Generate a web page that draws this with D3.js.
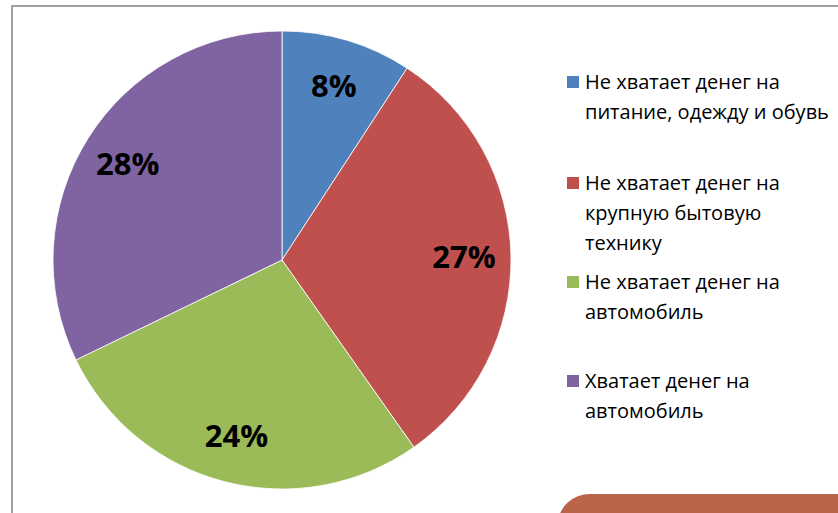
<!DOCTYPE html>
<html>
<head>
<meta charset="utf-8">
<script src="https://cdn.jsdelivr.net/npm/d3@7"></script>
<style>
  body { margin: 0; background: #fff; overflow: hidden; }
  svg { display: block; }
</style>
</head>
<body>
<div id="chart"></div>
<script>
"use strict";

var categories = [
  ["Не хватает денег на", "питание, одежду и обувь"],
  ["Не хватает денег на", "крупную бытовую", "технику"],
  ["Не хватает денег на", "автомобиль"],
  ["Хватает денег на", "автомобиль"]
];
var values = [8, 27, 24, 28];
var valueLabels = ["8%", "27%", "24%", "28%"];
var colors = ["#4F81BD", "#C0504D", "#9BBB59", "#8064A2"];

var width = 838;
var height = 513;

var svg = d3.select("#chart").append("svg")
  .attr("width", width)
  .attr("height", height);

// frame (top + left edge only, rest is outside the crop)
svg.append("path")
  .attr("d", "M12," + height + "V6H" + width)
  .attr("fill", "none")
  .attr("stroke", "#a0a0a0")
  .attr("stroke-width", 2);

// orange shape bottom right
svg.append("rect")
  .attr("x", 558).attr("y", 494)
  .attr("width", 320).attr("height", 60)
  .attr("rx", 32)
  .attr("fill", "#BA654A");

var cx = 282, cy = 260, radius = 229;

var pie = d3.pie().sort(null).value(function(d) { return d; });
var arc = d3.arc().innerRadius(0).outerRadius(radius);
var labelArc = d3.arc().innerRadius(182).outerRadius(182);

var g = svg.append("g")
  .attr("transform", "translate(" + cx + "," + cy + ")");

g.selectAll("path.slice")
  .data(pie(values))
  .enter()
  .append("path")
  .attr("class", "slice")
  .attr("d", arc)
  .attr("fill", function(d, i) { return colors[i]; })
  .attr("stroke", "#fff")
  .attr("stroke-width", 0.8);

g.selectAll("text.lbl")
  .data(pie(values))
  .enter()
  .append("text")
  .attr("class", "lbl")
  .attr("transform", function(d) { return "translate(" + labelArc.centroid(d) + ")"; })
  .attr("text-anchor", "middle")
  .attr("dy", "0.36em")
  .attr("font-family", "'Open Sans', sans-serif")
  .attr("font-weight", "bold")
  .attr("font-size", "31px")
  .attr("fill", "#000")
  .text(function(d, i) { return valueLabels[i]; });

// legend
var legendY = [82, 183, 282, 381];
var lineH = 30;

var legend = svg.selectAll("g.legend")
  .data(categories)
  .enter()
  .append("g")
  .attr("class", "legend")
  .attr("transform", function(d, i) { return "translate(567," + legendY[i] + ")"; });

legend.append("rect")
  .attr("x", 0).attr("y", -6)
  .attr("width", 12).attr("height", 12)
  .attr("fill", function(d, i) { return colors[i]; });

legend.each(function(lines) {
  var t = d3.select(this).append("text")
    .attr("font-family", "'Open Sans', sans-serif")
    .attr("font-size", "20px")
    .attr("fill", "#000");
  lines.forEach(function(s, j) {
    t.append("tspan")
      .attr("x", 18)
      .attr("y", j * lineH)
      .attr("dy", "0.36em")
      .text(s);
  });
});
</script>
</body>
</html>
